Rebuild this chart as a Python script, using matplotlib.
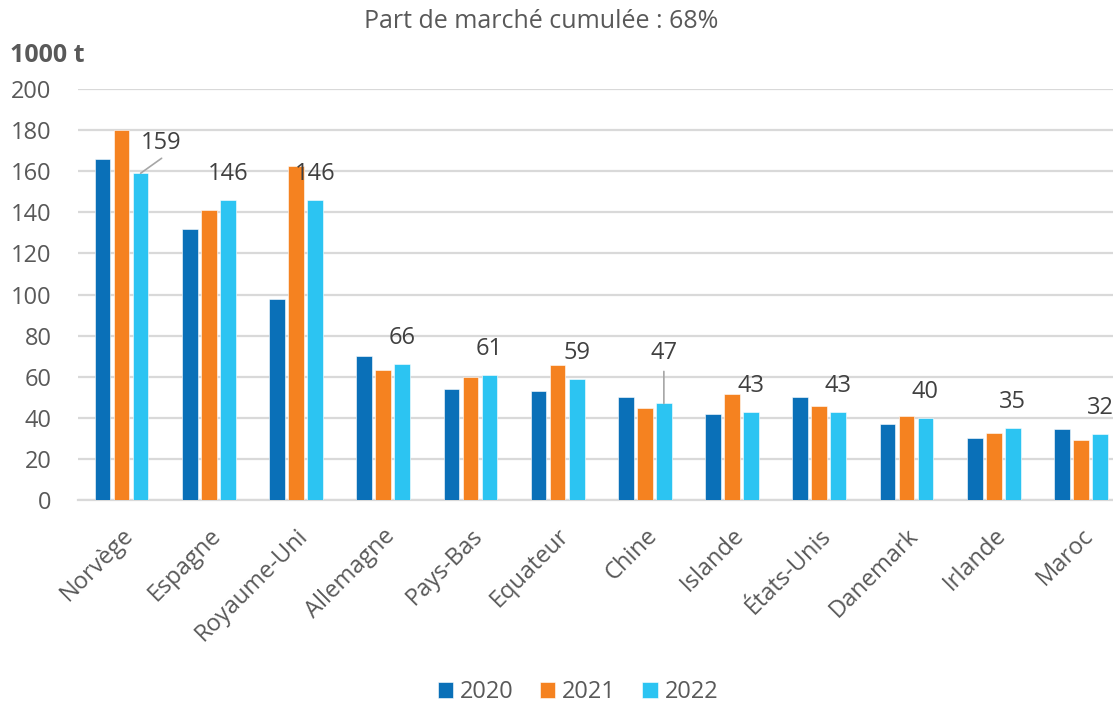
import matplotlib
matplotlib.use("Agg")
import matplotlib.pyplot as plt
import numpy as np

categories = ["Norvège", "Espagne", "Royaume-Uni", "Allemagne", "Pays-Bas", "Equateur",
              "Chine", "Islande", "États-Unis", "Danemark", "Irlande", "Maroc"]
years = ["2020", "2021", "2022"]
v2020 = [166, 132, 98, 70, 54, 53, 50, 42, 50, 37, 30, 34.5]
v2021 = [180, 141, 162.5, 63.5, 60, 65.5, 45, 51.5, 45.5, 41, 32.5, 29]
v2022 = [159, 146, 146, 66, 61, 59, 47, 43, 43, 40, 35, 32]
labels_2022 = ["159", "146", "146", "66", "61", "59", "47", "43", "43", "40", "35", "32"]
yticks = [0, 20, 40, 60, 80, 100, 120, 140, 160, 180, 200]

colors = ["#0a70b8", "#f58220", "#2cc4f2"]
grey = "#595959"
plt.rcParams['font.family'] = ['Open Sans', 'DejaVu Sans']

W, H = 1113, 704
fig = plt.figure(figsize=(W / 100, H / 100), dpi=100)
left_px, right_px, bot_px, top_px = 78, 1124.5, 500, 89
ax = fig.add_axes([left_px / W, 1 - bot_px / H, (right_px - left_px) / W, (bot_px - top_px) / H])

x = np.arange(len(categories))
step = 0.218
bw = 0.18
series = [v2020, v2021, v2022]
bars = []
for i, (vals, c) in enumerate(zip(series, colors)):
    b = ax.bar(x + (i - 1) * step, vals, bw, color=c, label=years[i], zorder=3,
               edgecolor="white", linewidth=0.4)
    bars.append(b)

ax.set_xlim(-0.5, len(categories) - 0.5)
ax.set_ylim(0, 200)
ax.set_yticks(yticks)
ax.yaxis.grid(True, color="#d9d9d9", linewidth=1.6, zorder=0)
ax.set_axisbelow(True)
for s in ["top", "right", "left"]:
    ax.spines[s].set_visible(False)
ax.spines["bottom"].set_color("#d9d9d9")
ax.spines["bottom"].set_linewidth(1.6)
ax.tick_params(axis="both", length=0, colors=grey, labelsize=17)
ax.tick_params(axis="y", pad=19)
ax.set_xticks(x)
ax.set_xticklabels(categories, rotation=45, ha="right", rotation_mode="anchor")
ax.tick_params(axis="x", pad=17)

lab_kw = dict(textcoords="offset pixels", ha="center", va="center", fontsize=17, color="#404040")
line_kw = dict(arrowstyle="-", color="#a6a6a6", lw=1.2, shrinkA=0, shrinkB=0)
for i, (val, lab) in enumerate(zip(v2022, labels_2022)):
    xc = x[i] + step
    if i == 0:
        ax.annotate("", xy=(xc, val), xytext=(21, 15), textcoords="offset pixels", arrowprops=line_kw)
        ax.annotate(lab, xy=(xc, val), xytext=(21, 30), **lab_kw)
    elif i == 6:
        ax.annotate("", xy=(xc, val), xytext=(0, 32), textcoords="offset pixels", arrowprops=line_kw)
        ax.annotate(lab, xy=(xc, val), xytext=(0, 50), **lab_kw)
    else:
        ax.annotate(lab, xy=(xc, val), xytext=(0, 26), **lab_kw)

fig.text(541 / W, 1 - 22 / H, "Part de marché cumulée : 68%", ha="center", va="center",
         fontsize=18, color=grey)
fig.text(10 / W, 1 - 55 / H, "1000 t", ha="left", va="center", fontsize=18,
         fontweight="bold", color=grey)

leg = fig.legend(handles=bars, labels=years, loc="center", bbox_to_anchor=(578 / W, 1 - 692 / H),
                 ncol=3, frameon=False, fontsize=17, handlelength=0.65, handleheight=0.65,
                 handletextpad=0.3, columnspacing=1.1)
for t in leg.get_texts():
    t.set_color(grey)

fig.savefig("out.png", dpi=100)
